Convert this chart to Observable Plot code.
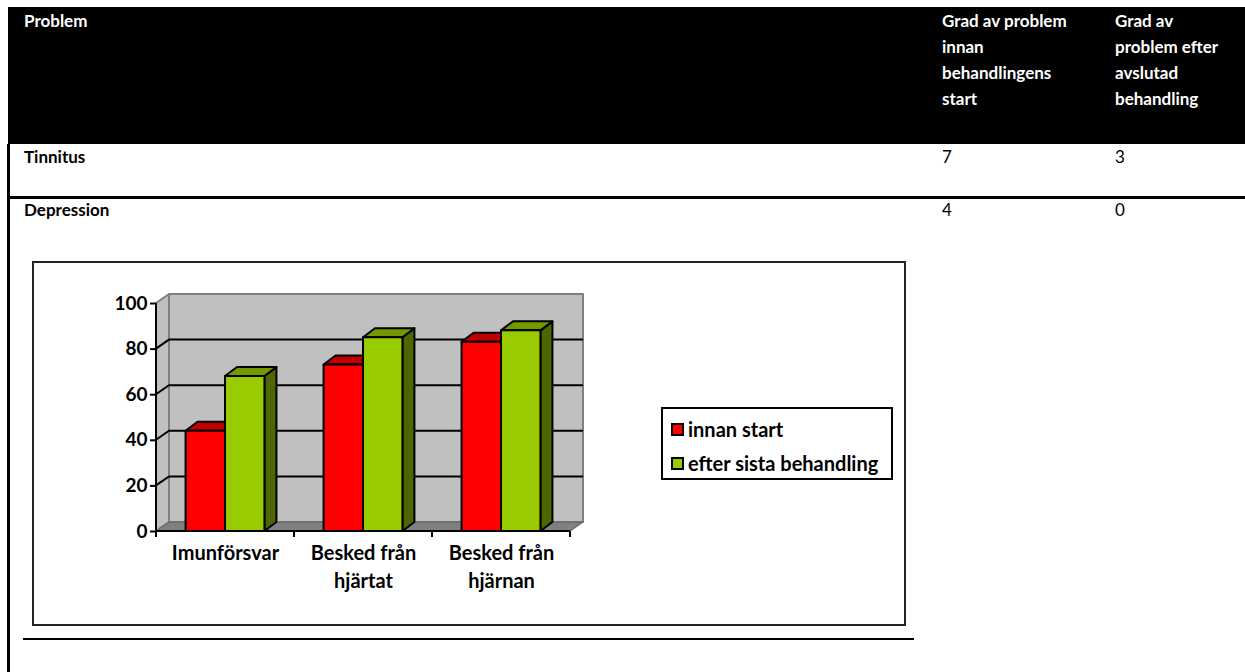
<!DOCTYPE html>
<html>
<head>
<meta charset="utf-8">
<script src="https://cdn.jsdelivr.net/npm/d3@7"></script>
<script src="https://cdn.jsdelivr.net/npm/@observablehq/plot@0.6"></script>
<style>
  html, body { margin: 0; padding: 0; background: #fff; }
  body { width: 1245px; height: 672px; position: relative; overflow: hidden; font-family: Lato, "Open Sans", sans-serif; color: #000; }
  .box { position: absolute; }
  .t { position: absolute; font-weight: bold; font-size: 17px; line-height: 26px; white-space: nowrap; }
  .w { color: #fff; }
  .n { font-weight: normal; }
  #chart { position: absolute; left: 33px; top: 262px; width: 872px; height: 363px; }
  #frame { position: absolute; left: 32px; top: 261px; width: 870px; height: 361px; border: 2px solid #222; pointer-events: none; }
  #legend { position: absolute; left: 661px; top: 407px; width: 228px; height: 69px; border: 2px solid #000; background: #fff; }
  .li { position: absolute; left: 8px; font-weight: bold; font-size: 20px; line-height: 22px; white-space: nowrap; }
  .sw { display: inline-block; width: 9px; height: 9px; border: 2px solid #000; margin-right: 4px; vertical-align: 1px; }
</style>
</head>
<body>
<div id="page"></div>
<div id="chart"></div>
<div id="frame"></div>
<div id="legend"></div>
<script>
// ---- table data ----
const tableHeaders = ["Problem", "Grad av problem\ninnan\nbehandlingens\nstart", "Grad av\nproblem efter\navslutad\nbehandling"];
const problems = ["Tinnitus", "Depression"];
const gradInnan = [7, 4];
const gradEfter = [3, 0];

// ---- chart data ----
const categories = ["Imunförsvar", "Besked från hjärtat", "Besked från hjärnan"];
const xLabels = ["Imunförsvar", "Besked från\nhjärtat", "Besked från\nhjärnan"];
const series = ["innan start", "efter sista behandling"];
const innanStart = [44, 73, 83];
const efterSista = [68, 85, 88];
const yTicks = [0, 20, 40, 60, 80, 100];
const gridTicks = [20, 40, 60, 80];

const frontColors = ["#ff0000", "#99cc00"];
const topColors = ["#c00000", "#739900"];
const sideColors = ["#800000", "#4d6600"];

// ---- page: table ----
const page = document.getElementById("page");
function el(cls, css, html) {
  const d = document.createElement("div");
  d.className = cls;
  Object.assign(d.style, css);
  d.innerHTML = html;
  page.appendChild(d);
  return d;
}
el("box", {left: "8px", top: "7px", width: "1237px", height: "137px", background: "#000"}, "");
el("box", {left: "7px", top: "144px", width: "3px", height: "528px", background: "#000"}, "");
el("box", {left: "8px", top: "196px", width: "1237px", height: "3px", background: "#000"}, "");
el("box", {left: "23px", top: "638px", width: "891px", height: "2px", background: "#000"}, "");
const colX = [24, 942, 1115];
tableHeaders.forEach((h, i) => el("t w", {left: colX[i] + "px", top: "8px"}, h.split("\n").join("<br>")));
problems.forEach((p, r) => {
  const top = (r === 0 ? 144 : 197) + "px";
  el("t", {left: colX[0] + "px", top}, p);
  el("t n", {left: colX[1] + "px", top}, String(gradInnan[r]));
  el("t n", {left: colX[2] + "px", top}, String(gradEfter[r]));
});

// ---- chart ----
const rows = categories.flatMap((c, i) => [
  {category: c, s: 0, value: innanStart[i]},
  {category: c, s: 1, value: efterSista[i]}
]);

const WDX = 13, WDY = -9;   // wall depth
const BDX = 12, BDY = -9;   // bar depth

function bwOf(x) {
  return typeof x.bandwidth === "function" ? x.bandwidth() : x.bandwidth;
}

function walls(index, scales) {
  const {x, y} = scales;
  const bw = bwOf(x);
  const x0 = x(categories[0]), x1 = x(categories[categories.length - 1]) + bw;
  const y0 = y(0), yT = y(100);
  const g = d3.create("svg:g");
  const poly = (pts, fill, stroke, sw) => g.append("polygon")
    .attr("points", pts.map(p => p.join(",")).join(" "))
    .attr("fill", fill).attr("stroke", stroke).attr("stroke-width", sw).attr("stroke-linejoin", "round");
  poly([[x0, y0], [x0, yT], [x0 + WDX, yT + WDY], [x0 + WDX, y0 + WDY]], "#c0c0c0", "#808080", 2);
  poly([[x0 + WDX, yT + WDY], [x1 + WDX, yT + WDY], [x1 + WDX, y0 + WDY], [x0 + WDX, y0 + WDY]], "#c0c0c0", "#808080", 2);
  poly([[x0, y0], [x0 + WDX, y0 + WDY], [x1 + WDX, y0 + WDY], [x1, y0]], "#808080", "#6a6a6a", 1.5);
  for (const t of gridTicks) {
    g.append("path")
      .attr("d", `M${x0},${y(t)}L${x0 + WDX},${y(t) + WDY}L${x1 + WDX},${y(t) + WDY}`)
      .attr("fill", "none").attr("stroke", "#000").attr("stroke-width", 2);
  }
  g.append("line").attr("x1", x0).attr("x2", x0).attr("y1", yT).attr("y2", y0 + 1).attr("stroke", "#000").attr("stroke-width", 2);
  g.append("line").attr("x1", x0 - 1).attr("x2", x1).attr("y1", y0).attr("y2", y0).attr("stroke", "#000").attr("stroke-width", 2);
  const bounds = categories.map(c => x(c)).concat([x1]);
  for (const b of bounds) {
    g.append("line").attr("x1", b).attr("x2", b).attr("y1", y0).attr("y2", y0 + 6).attr("stroke", "#000").attr("stroke-width", 2);
  }
  return g.node();
}

function bars(index, scales) {
  const {x, y} = scales;
  const bw = bwOf(x);
  const inner = d3.scaleBand().domain([0, 1]).range([0, bw]).paddingInner(0).paddingOuter(0.75);
  const w = inner.bandwidth();
  const g = d3.create("svg:g").attr("stroke", "#000").attr("stroke-width", 2).attr("stroke-linejoin", "round");
  const y0 = y(0);
  const pts = p => p.map(q => q.join(",")).join(" ");
  for (const r of rows) {
    const bx = x(r.category) + inner(r.s);
    const yt = y(r.value);
    g.append("polygon").attr("fill", sideColors[r.s])
      .attr("points", pts([[bx + w, y0], [bx + w, yt], [bx + w + BDX, yt + BDY], [bx + w + BDX, y0 + BDY]]));
    g.append("polygon").attr("fill", topColors[r.s])
      .attr("points", pts([[bx, yt], [bx + w, yt], [bx + w + BDX, yt + BDY], [bx + BDX, yt + BDY]]));
    g.append("rect").attr("fill", frontColors[r.s])
      .attr("x", bx).attr("y", yt).attr("width", w).attr("height", y0 - yt);
  }
  return g.node();
}

const chart = Plot.plot({
  width: 872,
  height: 363,
  marginLeft: 123,
  marginRight: 335,
  marginTop: 41,
  marginBottom: 94,
  style: {fontFamily: "Lato, 'Open Sans', sans-serif", fontSize: "20px", fontWeight: "bold", color: "#000", background: "transparent", overflow: "visible"},
  x: {type: "band", domain: categories, padding: 0, axis: null},
  y: {domain: [0, 100], axis: null},
  marks: [
    walls,
    bars,
    Plot.axisY({ticks: yTicks, tickSize: 6, tickPadding: 3, strokeWidth: 2, label: null, fontSize: 19}),
    Plot.text(categories, {x: d => d, frameAnchor: "bottom", dy: 9, lineAnchor: "top", lineHeight: 1.4, fontSize: 20, text: (d, i) => xLabels[i]})
  ]
});
document.getElementById("chart").appendChild(chart);

// ---- legend ----
const legend = document.getElementById("legend");
series.forEach((s, i) => {
  const d = document.createElement("div");
  d.className = "li";
  d.style.top = (i === 0 ? 9 : 43) + "px";
  d.innerHTML = `<span class="sw" style="background:${frontColors[i]}"></span>${s}`;
  legend.appendChild(d);
});
</script>
</body>
</html>
